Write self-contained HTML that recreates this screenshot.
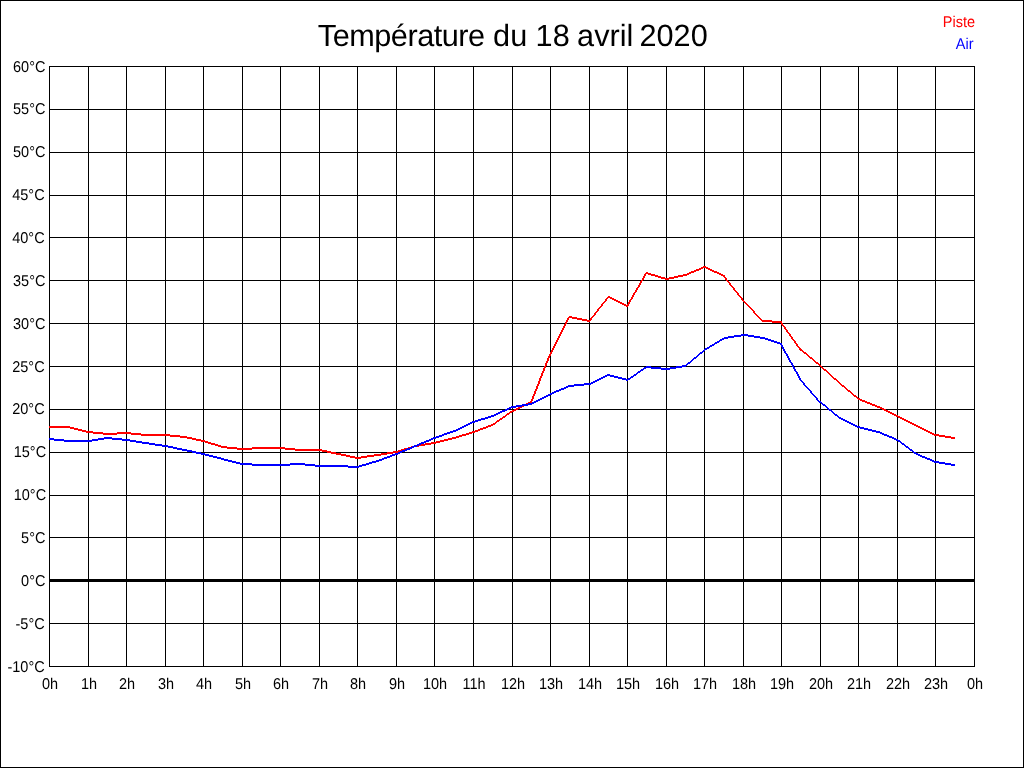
<!DOCTYPE html>
<html><head><meta charset="utf-8"><title>Température du 18 avril 2020</title>
<style>
html,body{margin:0;padding:0;background:#fff;}
svg{display:block;will-change:transform;}
text{font-family:"Liberation Sans",sans-serif;text-rendering:geometricPrecision;}
</style></head><body>
<svg width="1024" height="768" viewBox="0 0 1024 768">
<rect x="0" y="0" width="1024" height="768" fill="#fff"/>

<g shape-rendering="crispEdges" fill="#000">
<rect x="0" y="0" width="1024" height="1"/><rect x="0" y="767" width="1024" height="1"/><rect x="0" y="0" width="1" height="768"/><rect x="1023" y="0" width="1" height="768"/>
<rect x="49" y="66" width="1" height="601"/>
<rect x="88" y="66" width="1" height="601"/>
<rect x="126" y="66" width="1" height="601"/>
<rect x="165" y="66" width="1" height="601"/>
<rect x="203" y="66" width="1" height="601"/>
<rect x="242" y="66" width="1" height="601"/>
<rect x="280" y="66" width="1" height="601"/>
<rect x="319" y="66" width="1" height="601"/>
<rect x="357" y="66" width="1" height="601"/>
<rect x="396" y="66" width="1" height="601"/>
<rect x="434" y="66" width="1" height="601"/>
<rect x="473" y="66" width="1" height="601"/>
<rect x="512" y="66" width="1" height="601"/>
<rect x="550" y="66" width="1" height="601"/>
<rect x="589" y="66" width="1" height="601"/>
<rect x="627" y="66" width="1" height="601"/>
<rect x="666" y="66" width="1" height="601"/>
<rect x="704" y="66" width="1" height="601"/>
<rect x="743" y="66" width="1" height="601"/>
<rect x="781" y="66" width="1" height="601"/>
<rect x="820" y="66" width="1" height="601"/>
<rect x="858" y="66" width="1" height="601"/>
<rect x="897" y="66" width="1" height="601"/>
<rect x="935" y="66" width="1" height="601"/>
<rect x="974" y="66" width="1" height="601"/>
<rect x="49" y="66" width="926" height="1"/>
<rect x="49" y="109" width="926" height="1"/>
<rect x="49" y="152" width="926" height="1"/>
<rect x="49" y="195" width="926" height="1"/>
<rect x="49" y="237" width="926" height="1"/>
<rect x="49" y="280" width="926" height="1"/>
<rect x="49" y="323" width="926" height="1"/>
<rect x="49" y="366" width="926" height="1"/>
<rect x="49" y="409" width="926" height="1"/>
<rect x="49" y="452" width="926" height="1"/>
<rect x="49" y="495" width="926" height="1"/>
<rect x="49" y="537" width="926" height="1"/>
<rect x="49" y="580" width="926" height="1"/>
<rect x="49" y="623" width="926" height="1"/>
<rect x="49" y="666" width="926" height="1"/>
<rect x="49" y="579" width="926" height="3"/>
</g>
<g font-size="15.6" fill="#000" text-anchor="end">
<text transform="translate(45.40 72.2) scale(0.93 1)">60°C</text>
<text transform="translate(45.40 114.2) scale(0.93 1)">55°C</text>
<text transform="translate(45.40 157.2) scale(0.93 1)">50°C</text>
<text transform="translate(44.60 200.2) scale(0.93 1)">45°C</text>
<text transform="translate(44.60 243.2) scale(0.93 1)">40°C</text>
<text transform="translate(45.40 286.2) scale(0.93 1)">35°C</text>
<text transform="translate(45.40 329.2) scale(0.93 1)">30°C</text>
<text transform="translate(44.60 372.2) scale(0.93 1)">25°C</text>
<text transform="translate(44.60 414.2) scale(0.93 1)">20°C</text>
<text transform="translate(46.10 457.2) scale(0.93 1)">15°C</text>
<text transform="translate(46.10 500.2) scale(0.93 1)">10°C</text>
<text transform="translate(45.40 543.2) scale(0.93 1)">5°C</text>
<text transform="translate(45.40 586.2) scale(0.93 1)">0°C</text>
<text transform="translate(44.70 629.2) scale(0.93 1)">-5°C</text>
<text transform="translate(44.70 672.2) scale(0.93 1)">-10°C</text>
</g>
<g font-size="15.6" fill="#000" text-anchor="middle">
<text transform="translate(50 688.9) scale(0.93 1)">0h</text>
<text transform="translate(89 688.9) scale(0.93 1)">1h</text>
<text transform="translate(127 688.9) scale(0.93 1)">2h</text>
<text transform="translate(166 688.9) scale(0.93 1)">3h</text>
<text transform="translate(204 688.9) scale(0.93 1)">4h</text>
<text transform="translate(243 688.9) scale(0.93 1)">5h</text>
<text transform="translate(281 688.9) scale(0.93 1)">6h</text>
<text transform="translate(320 688.9) scale(0.93 1)">7h</text>
<text transform="translate(358 688.9) scale(0.93 1)">8h</text>
<text transform="translate(397 688.9) scale(0.93 1)">9h</text>
<text transform="translate(435 688.9) scale(0.93 1)">10h</text>
<text transform="translate(474 688.9) scale(0.93 1)">11h</text>
<text transform="translate(513 688.9) scale(0.93 1)">12h</text>
<text transform="translate(551 688.9) scale(0.93 1)">13h</text>
<text transform="translate(590 688.9) scale(0.93 1)">14h</text>
<text transform="translate(628 688.9) scale(0.93 1)">15h</text>
<text transform="translate(667 688.9) scale(0.93 1)">16h</text>
<text transform="translate(705 688.9) scale(0.93 1)">17h</text>
<text transform="translate(744 688.9) scale(0.93 1)">18h</text>
<text transform="translate(782 688.9) scale(0.93 1)">19h</text>
<text transform="translate(821 688.9) scale(0.93 1)">20h</text>
<text transform="translate(859 688.9) scale(0.93 1)">21h</text>
<text transform="translate(898 688.9) scale(0.93 1)">22h</text>
<text transform="translate(936 688.9) scale(0.93 1)">23h</text>
<text transform="translate(975 688.9) scale(0.93 1)">0h</text>
</g>
<g font-size="30.67" fill="#000"><text x="317.8" y="46" textLength="167.3" lengthAdjust="spacing">Température</text><text x="493.1" y="46">du</text><text x="535.6" y="46">18</text><text x="577.1" y="46">avril</text><text x="639.5" y="46">2020</text></g>
<text transform="translate(975 27) scale(0.93 1)" font-size="15.6" text-anchor="end" fill="#f00">Piste</text>
<text transform="translate(973.5 49) scale(0.93 1)" font-size="15.6" text-anchor="end" fill="#00f">Air</text>
<path fill="#f00" shape-rendering="crispEdges" d="M703 266h3v1h-3zM701 267h7v1h-7zM699 268h4v1h-4zM706 268h4v1h-4zM696 269h5v1h-5zM708 269h4v1h-4zM694 270h5v1h-5zM710 270h4v1h-4zM691 271h5v1h-5zM712 271h5v1h-5zM646 272h2v1h-2zM689 272h5v1h-5zM714 272h5v1h-5zM645 273h6v1h-6zM687 273h4v1h-4zM717 273h4v1h-4zM644 274h2v1h-2zM648 274h7v1h-7zM683 274h6v1h-6zM719 274h4v1h-4zM644 275h2v1h-2zM651 275h7v1h-7zM678 275h9v1h-9zM721 275h4v1h-4zM643 276h2v1h-2zM655 276h6v1h-6zM674 276h9v1h-9zM723 276h2v1h-2zM643 277h2v1h-2zM658 277h7v1h-7zM669 277h9v1h-9zM724 277h2v1h-2zM642 278h2v1h-2zM661 278h13v1h-13zM725 278h2v1h-2zM642 279h2v1h-2zM665 279h4v1h-4zM725 279h2v1h-2zM641 280h2v1h-2zM726 280h2v1h-2zM640 281h2v1h-2zM727 281h2v1h-2zM640 282h2v1h-2zM728 282h2v1h-2zM639 283h2v1h-2zM729 283h2v1h-2zM639 284h2v1h-2zM729 284h2v1h-2zM638 285h2v1h-2zM730 285h2v1h-2zM638 286h2v1h-2zM731 286h2v1h-2zM637 287h2v1h-2zM732 287h2v1h-2zM636 288h2v1h-2zM733 288h2v1h-2zM636 289h2v1h-2zM733 289h2v1h-2zM635 290h2v1h-2zM734 290h2v1h-2zM635 291h2v1h-2zM735 291h2v1h-2zM634 292h2v1h-2zM736 292h2v1h-2zM633 293h2v1h-2zM737 293h2v1h-2zM633 294h2v1h-2zM737 294h2v1h-2zM632 295h2v1h-2zM738 295h2v1h-2zM608 296h2v1h-2zM632 296h2v1h-2zM739 296h2v1h-2zM607 297h5v1h-5zM631 297h2v1h-2zM740 297h2v1h-2zM606 298h2v1h-2zM610 298h4v1h-4zM631 298h2v1h-2zM741 298h2v1h-2zM605 299h2v1h-2zM612 299h4v1h-4zM630 299h2v1h-2zM741 299h2v1h-2zM605 300h2v1h-2zM614 300h4v1h-4zM629 300h2v1h-2zM742 300h2v1h-2zM604 301h2v1h-2zM616 301h4v1h-4zM629 301h2v1h-2zM743 301h2v1h-2zM603 302h2v1h-2zM618 302h4v1h-4zM628 302h2v1h-2zM744 302h2v1h-2zM602 303h2v1h-2zM620 303h4v1h-4zM628 303h2v1h-2zM745 303h2v1h-2zM601 304h2v1h-2zM622 304h4v1h-4zM627 304h2v1h-2zM746 304h2v1h-2zM601 305h2v1h-2zM624 305h5v1h-5zM747 305h2v1h-2zM600 306h2v1h-2zM626 306h2v1h-2zM748 306h2v1h-2zM599 307h2v1h-2zM749 307h2v1h-2zM598 308h2v1h-2zM750 308h2v1h-2zM597 309h2v1h-2zM751 309h2v1h-2zM597 310h2v1h-2zM752 310h2v1h-2zM596 311h2v1h-2zM753 311h2v1h-2zM595 312h2v1h-2zM753 312h2v1h-2zM594 313h2v1h-2zM754 313h2v1h-2zM594 314h2v1h-2zM755 314h2v1h-2zM593 315h2v1h-2zM756 315h2v1h-2zM569 316h3v1h-3zM592 316h2v1h-2zM757 316h2v1h-2zM568 317h9v1h-9zM591 317h2v1h-2zM758 317h2v1h-2zM567 318h2v1h-2zM572 318h10v1h-10zM590 318h2v1h-2zM759 318h2v1h-2zM567 319h2v1h-2zM577 319h10v1h-10zM590 319h2v1h-2zM760 319h2v1h-2zM566 320h2v1h-2zM582 320h9v1h-9zM761 320h11v1h-11zM566 321h2v1h-2zM587 321h3v1h-3zM762 321h20v1h-20zM565 322h2v1h-2zM772 322h10v1h-10zM565 323h2v1h-2zM781 323h2v1h-2zM564 324h2v1h-2zM781 324h2v1h-2zM564 325h2v1h-2zM782 325h2v1h-2zM563 326h2v1h-2zM783 326h2v1h-2zM563 327h2v1h-2zM784 327h2v1h-2zM562 328h2v1h-2zM784 328h2v1h-2zM562 329h2v1h-2zM785 329h2v1h-2zM561 330h2v1h-2zM786 330h2v1h-2zM561 331h2v1h-2zM786 331h2v1h-2zM560 332h2v1h-2zM787 332h2v1h-2zM560 333h2v1h-2zM788 333h2v1h-2zM559 334h2v1h-2zM789 334h2v1h-2zM559 335h2v1h-2zM789 335h2v1h-2zM558 336h2v1h-2zM790 336h2v1h-2zM558 337h2v1h-2zM791 337h2v1h-2zM557 338h2v1h-2zM791 338h2v1h-2zM557 339h2v1h-2zM792 339h2v1h-2zM556 340h2v1h-2zM793 340h2v1h-2zM556 341h2v1h-2zM794 341h2v1h-2zM555 342h2v1h-2zM794 342h2v1h-2zM555 343h2v1h-2zM795 343h2v1h-2zM554 344h2v1h-2zM796 344h2v1h-2zM554 345h2v1h-2zM796 345h2v1h-2zM553 346h2v1h-2zM797 346h2v1h-2zM553 347h2v1h-2zM798 347h2v1h-2zM552 348h2v1h-2zM799 348h2v1h-2zM552 349h2v1h-2zM799 349h3v1h-3zM551 350h2v1h-2zM800 350h3v1h-3zM551 351h2v1h-2zM802 351h2v1h-2zM550 352h2v1h-2zM803 352h3v1h-3zM550 353h2v1h-2zM804 353h3v1h-3zM549 354h2v1h-2zM806 354h2v1h-2zM549 355h2v1h-2zM807 355h2v1h-2zM548 356h2v1h-2zM808 356h2v1h-2zM548 357h2v1h-2zM809 357h3v1h-3zM547 358h2v1h-2zM810 358h3v1h-3zM547 359h2v1h-2zM812 359h2v1h-2zM547 360h2v1h-2zM813 360h2v1h-2zM546 361h2v1h-2zM814 361h2v1h-2zM546 362h2v1h-2zM815 362h3v1h-3zM545 363h2v1h-2zM816 363h3v1h-3zM545 364h2v1h-2zM818 364h2v1h-2zM545 365h2v1h-2zM819 365h2v1h-2zM544 366h2v1h-2zM820 366h2v1h-2zM544 367h2v1h-2zM821 367h2v1h-2zM543 368h2v1h-2zM822 368h2v1h-2zM543 369h2v1h-2zM823 369h3v1h-3zM543 370h2v1h-2zM824 370h3v1h-3zM542 371h2v1h-2zM826 371h2v1h-2zM542 372h2v1h-2zM827 372h2v1h-2zM541 373h2v1h-2zM828 373h2v1h-2zM541 374h2v1h-2zM829 374h2v1h-2zM541 375h2v1h-2zM830 375h2v1h-2zM540 376h2v1h-2zM831 376h2v1h-2zM540 377h2v1h-2zM832 377h2v1h-2zM539 378h2v1h-2zM833 378h3v1h-3zM539 379h2v1h-2zM834 379h3v1h-3zM539 380h2v1h-2zM836 380h2v1h-2zM538 381h2v1h-2zM837 381h2v1h-2zM538 382h2v1h-2zM838 382h2v1h-2zM538 383h2v1h-2zM839 383h2v1h-2zM537 384h2v1h-2zM840 384h2v1h-2zM537 385h2v1h-2zM841 385h3v1h-3zM536 386h2v1h-2zM842 386h3v1h-3zM536 387h2v1h-2zM844 387h2v1h-2zM536 388h2v1h-2zM845 388h2v1h-2zM535 389h2v1h-2zM846 389h2v1h-2zM535 390h2v1h-2zM847 390h3v1h-3zM534 391h2v1h-2zM848 391h3v1h-3zM534 392h2v1h-2zM850 392h2v1h-2zM534 393h2v1h-2zM851 393h2v1h-2zM533 394h2v1h-2zM852 394h2v1h-2zM533 395h2v1h-2zM853 395h3v1h-3zM532 396h2v1h-2zM854 396h3v1h-3zM532 397h2v1h-2zM856 397h2v1h-2zM532 398h2v1h-2zM857 398h3v1h-3zM531 399h2v1h-2zM858 399h4v1h-4zM531 400h2v1h-2zM860 400h5v1h-5zM530 401h2v1h-2zM862 401h5v1h-5zM528 402h4v1h-4zM865 402h5v1h-5zM526 403h4v1h-4zM867 403h5v1h-5zM524 404h4v1h-4zM870 404h5v1h-5zM522 405h4v1h-4zM872 405h5v1h-5zM520 406h4v1h-4zM875 406h5v1h-5zM518 407h4v1h-4zM877 407h5v1h-5zM516 408h4v1h-4zM880 408h4v1h-4zM514 409h4v1h-4zM882 409h4v1h-4zM512 410h4v1h-4zM884 410h4v1h-4zM510 411h4v1h-4zM886 411h4v1h-4zM509 412h3v1h-3zM888 412h4v1h-4zM507 413h3v1h-3zM890 413h4v1h-4zM506 414h3v1h-3zM892 414h4v1h-4zM505 415h2v1h-2zM894 415h4v1h-4zM503 416h3v1h-3zM896 416h4v1h-4zM502 417h3v1h-3zM898 417h4v1h-4zM500 418h3v1h-3zM900 418h4v1h-4zM499 419h3v1h-3zM902 419h4v1h-4zM497 420h3v1h-3zM904 420h4v1h-4zM496 421h3v1h-3zM906 421h4v1h-4zM495 422h2v1h-2zM908 422h4v1h-4zM493 423h3v1h-3zM910 423h4v1h-4zM491 424h4v1h-4zM912 424h4v1h-4zM488 425h5v1h-5zM914 425h4v1h-4zM49 426h21v1h-21zM486 426h5v1h-5zM916 426h4v1h-4zM49 427h25v1h-25zM483 427h5v1h-5zM918 427h4v1h-4zM70 428h8v1h-8zM480 428h6v1h-6zM920 428h4v1h-4zM74 429h8v1h-8zM478 429h5v1h-5zM922 429h4v1h-4zM78 430h8v1h-8zM475 430h5v1h-5zM924 430h4v1h-4zM82 431h11v1h-11zM472 431h6v1h-6zM926 431h4v1h-4zM86 432h17v1h-17zM117 432h14v1h-14zM469 432h6v1h-6zM928 432h4v1h-4zM93 433h48v1h-48zM466 433h6v1h-6zM930 433h4v1h-4zM103 434h14v1h-14zM131 434h39v1h-39zM462 434h7v1h-7zM932 434h7v1h-7zM141 435h39v1h-39zM459 435h7v1h-7zM934 435h11v1h-11zM170 436h17v1h-17zM456 436h6v1h-6zM939 436h12v1h-12zM180 437h12v1h-12zM452 437h7v1h-7zM945 437h10v1h-10zM187 438h9v1h-9zM448 438h8v1h-8zM951 438h4v1h-4zM192 439h9v1h-9zM444 439h8v1h-8zM196 440h9v1h-9zM440 440h8v1h-8zM201 441h7v1h-7zM436 441h8v1h-8zM205 442h6v1h-6zM431 442h9v1h-9zM208 443h7v1h-7zM425 443h11v1h-11zM211 444h7v1h-7zM419 444h12v1h-12zM215 445h6v1h-6zM414 445h11v1h-11zM218 446h9v1h-9zM411 446h8v1h-8zM221 447h16v1h-16zM252 447h33v1h-33zM408 447h6v1h-6zM227 448h68v1h-68zM404 448h7v1h-7zM237 449h15v1h-15zM285 449h37v1h-37zM401 449h7v1h-7zM295 450h32v1h-32zM398 450h6v1h-6zM322 451h9v1h-9zM393 451h8v1h-8zM327 452h9v1h-9zM387 452h11v1h-11zM331 453h10v1h-10zM381 453h12v1h-12zM336 454h10v1h-10zM374 454h13v1h-13zM341 455h9v1h-9zM367 455h14v1h-14zM346 456h9v1h-9zM361 456h13v1h-13zM350 457h17v1h-17zM355 458h6v1h-6z"/>
<path fill="#00f" shape-rendering="crispEdges" d="M741 334h7v1h-7zM734 335h20v1h-20zM728 336h13v1h-13zM748 336h12v1h-12zM724 337h10v1h-10zM754 337h11v1h-11zM722 338h6v1h-6zM760 338h8v1h-8zM720 339h4v1h-4zM765 339h6v1h-6zM719 340h3v1h-3zM768 340h6v1h-6zM717 341h3v1h-3zM771 341h6v1h-6zM715 342h4v1h-4zM774 342h6v1h-6zM714 343h3v1h-3zM777 343h5v1h-5zM712 344h3v1h-3zM780 344h2v1h-2zM710 345h4v1h-4zM781 345h2v1h-2zM709 346h3v1h-3zM781 346h2v1h-2zM707 347h3v1h-3zM782 347h2v1h-2zM705 348h4v1h-4zM782 348h2v1h-2zM704 349h3v1h-3zM783 349h2v1h-2zM703 350h2v1h-2zM783 350h2v1h-2zM702 351h2v1h-2zM784 351h2v1h-2zM700 352h3v1h-3zM784 352h2v1h-2zM699 353h3v1h-3zM785 353h2v1h-2zM698 354h2v1h-2zM786 354h2v1h-2zM697 355h2v1h-2zM786 355h2v1h-2zM696 356h2v1h-2zM787 356h2v1h-2zM694 357h3v1h-3zM787 357h2v1h-2zM693 358h3v1h-3zM788 358h2v1h-2zM692 359h2v1h-2zM788 359h2v1h-2zM691 360h2v1h-2zM789 360h2v1h-2zM690 361h2v1h-2zM789 361h2v1h-2zM688 362h3v1h-3zM790 362h2v1h-2zM687 363h3v1h-3zM791 363h2v1h-2zM686 364h2v1h-2zM791 364h2v1h-2zM682 365h5v1h-5zM792 365h2v1h-2zM646 366h5v1h-5zM676 366h10v1h-10zM792 366h2v1h-2zM644 367h17v1h-17zM670 367h12v1h-12zM793 367h2v1h-2zM643 368h3v1h-3zM651 368h25v1h-25zM793 368h2v1h-2zM641 369h3v1h-3zM661 369h9v1h-9zM794 369h2v1h-2zM640 370h3v1h-3zM794 370h2v1h-2zM638 371h3v1h-3zM795 371h2v1h-2zM637 372h3v1h-3zM796 372h2v1h-2zM636 373h2v1h-2zM796 373h2v1h-2zM607 374h3v1h-3zM634 374h3v1h-3zM797 374h2v1h-2zM605 375h9v1h-9zM633 375h3v1h-3zM797 375h2v1h-2zM603 376h4v1h-4zM610 376h8v1h-8zM631 376h3v1h-3zM798 376h2v1h-2zM601 377h4v1h-4zM614 377h8v1h-8zM630 377h3v1h-3zM798 377h2v1h-2zM599 378h4v1h-4zM618 378h8v1h-8zM628 378h3v1h-3zM799 378h2v1h-2zM597 379h4v1h-4zM622 379h8v1h-8zM799 379h2v1h-2zM595 380h4v1h-4zM626 380h2v1h-2zM800 380h2v1h-2zM593 381h4v1h-4zM801 381h2v1h-2zM591 382h4v1h-4zM802 382h2v1h-2zM584 383h9v1h-9zM803 383h2v1h-2zM574 384h17v1h-17zM803 384h2v1h-2zM568 385h16v1h-16zM804 385h2v1h-2zM566 386h8v1h-8zM805 386h2v1h-2zM564 387h4v1h-4zM806 387h2v1h-2zM561 388h5v1h-5zM807 388h2v1h-2zM559 389h5v1h-5zM808 389h2v1h-2zM556 390h5v1h-5zM809 390h2v1h-2zM554 391h5v1h-5zM810 391h2v1h-2zM552 392h4v1h-4zM810 392h2v1h-2zM550 393h4v1h-4zM811 393h2v1h-2zM548 394h4v1h-4zM812 394h2v1h-2zM546 395h4v1h-4zM813 395h2v1h-2zM544 396h4v1h-4zM814 396h2v1h-2zM542 397h4v1h-4zM815 397h2v1h-2zM540 398h4v1h-4zM816 398h2v1h-2zM538 399h4v1h-4zM816 399h2v1h-2zM536 400h4v1h-4zM817 400h2v1h-2zM534 401h4v1h-4zM818 401h3v1h-3zM532 402h4v1h-4zM819 402h3v1h-3zM528 403h6v1h-6zM821 403h2v1h-2zM522 404h10v1h-10zM822 404h3v1h-3zM516 405h12v1h-12zM823 405h3v1h-3zM511 406h11v1h-11zM825 406h2v1h-2zM509 407h7v1h-7zM826 407h2v1h-2zM507 408h4v1h-4zM827 408h2v1h-2zM505 409h4v1h-4zM828 409h3v1h-3zM502 410h5v1h-5zM829 410h3v1h-3zM500 411h5v1h-5zM831 411h2v1h-2zM498 412h4v1h-4zM832 412h2v1h-2zM496 413h4v1h-4zM833 413h2v1h-2zM494 414h4v1h-4zM834 414h3v1h-3zM491 415h5v1h-5zM835 415h3v1h-3zM488 416h6v1h-6zM837 416h2v1h-2zM485 417h6v1h-6zM838 417h3v1h-3zM481 418h7v1h-7zM839 418h4v1h-4zM478 419h7v1h-7zM841 419h4v1h-4zM475 420h6v1h-6zM843 420h4v1h-4zM472 421h6v1h-6zM845 421h4v1h-4zM470 422h5v1h-5zM847 422h4v1h-4zM468 423h4v1h-4zM849 423h4v1h-4zM466 424h4v1h-4zM851 424h4v1h-4zM464 425h4v1h-4zM853 425h4v1h-4zM462 426h4v1h-4zM855 426h5v1h-5zM460 427h4v1h-4zM857 427h7v1h-7zM458 428h4v1h-4zM860 428h8v1h-8zM456 429h4v1h-4zM864 429h8v1h-8zM453 430h5v1h-5zM868 430h8v1h-8zM450 431h6v1h-6zM872 431h8v1h-8zM447 432h6v1h-6zM876 432h6v1h-6zM444 433h6v1h-6zM880 433h4v1h-4zM442 434h5v1h-5zM882 434h5v1h-5zM439 435h5v1h-5zM884 435h5v1h-5zM436 436h6v1h-6zM887 436h5v1h-5zM104 437h8v1h-8zM433 437h6v1h-6zM889 437h5v1h-5zM49 438h5v1h-5zM98 438h24v1h-24zM431 438h5v1h-5zM892 438h4v1h-4zM49 439h15v1h-15zM92 439h12v1h-12zM112 439h18v1h-18zM429 439h4v1h-4zM894 439h4v1h-4zM54 440h44v1h-44zM122 440h14v1h-14zM426 440h5v1h-5zM896 440h4v1h-4zM64 441h28v1h-28zM130 441h12v1h-12zM424 441h5v1h-5zM898 441h3v1h-3zM136 442h13v1h-13zM421 442h5v1h-5zM900 442h2v1h-2zM142 443h13v1h-13zM419 443h5v1h-5zM901 443h3v1h-3zM149 444h13v1h-13zM417 444h4v1h-4zM902 444h3v1h-3zM155 445h13v1h-13zM414 445h5v1h-5zM904 445h2v1h-2zM162 446h11v1h-11zM412 446h5v1h-5zM905 446h3v1h-3zM168 447h9v1h-9zM410 447h4v1h-4zM906 447h3v1h-3zM173 448h9v1h-9zM407 448h5v1h-5zM908 448h2v1h-2zM177 449h10v1h-10zM405 449h5v1h-5zM909 449h3v1h-3zM182 450h10v1h-10zM402 450h5v1h-5zM910 450h3v1h-3zM187 451h9v1h-9zM400 451h5v1h-5zM912 451h2v1h-2zM192 452h9v1h-9zM398 452h4v1h-4zM913 452h3v1h-3zM196 453h9v1h-9zM395 453h5v1h-5zM914 453h4v1h-4zM201 454h8v1h-8zM392 454h6v1h-6zM916 454h4v1h-4zM205 455h8v1h-8zM390 455h5v1h-5zM918 455h4v1h-4zM209 456h8v1h-8zM387 456h5v1h-5zM920 456h5v1h-5zM213 457h8v1h-8zM384 457h6v1h-6zM922 457h5v1h-5zM217 458h7v1h-7zM382 458h5v1h-5zM925 458h5v1h-5zM221 459h7v1h-7zM379 459h5v1h-5zM927 459h5v1h-5zM224 460h8v1h-8zM376 460h6v1h-6zM930 460h4v1h-4zM228 461h8v1h-8zM372 461h7v1h-7zM932 461h7v1h-7zM232 462h8v1h-8zM369 462h7v1h-7zM934 462h11v1h-11zM236 463h16v1h-16zM290 463h15v1h-15zM366 463h6v1h-6zM939 463h12v1h-12zM240 464h75v1h-75zM362 464h7v1h-7zM945 464h10v1h-10zM252 465h38v1h-38zM305 465h43v1h-43zM359 465h7v1h-7zM951 465h4v1h-4zM315 466h47v1h-47zM348 467h11v1h-11z"/>
</svg>
</body></html>
